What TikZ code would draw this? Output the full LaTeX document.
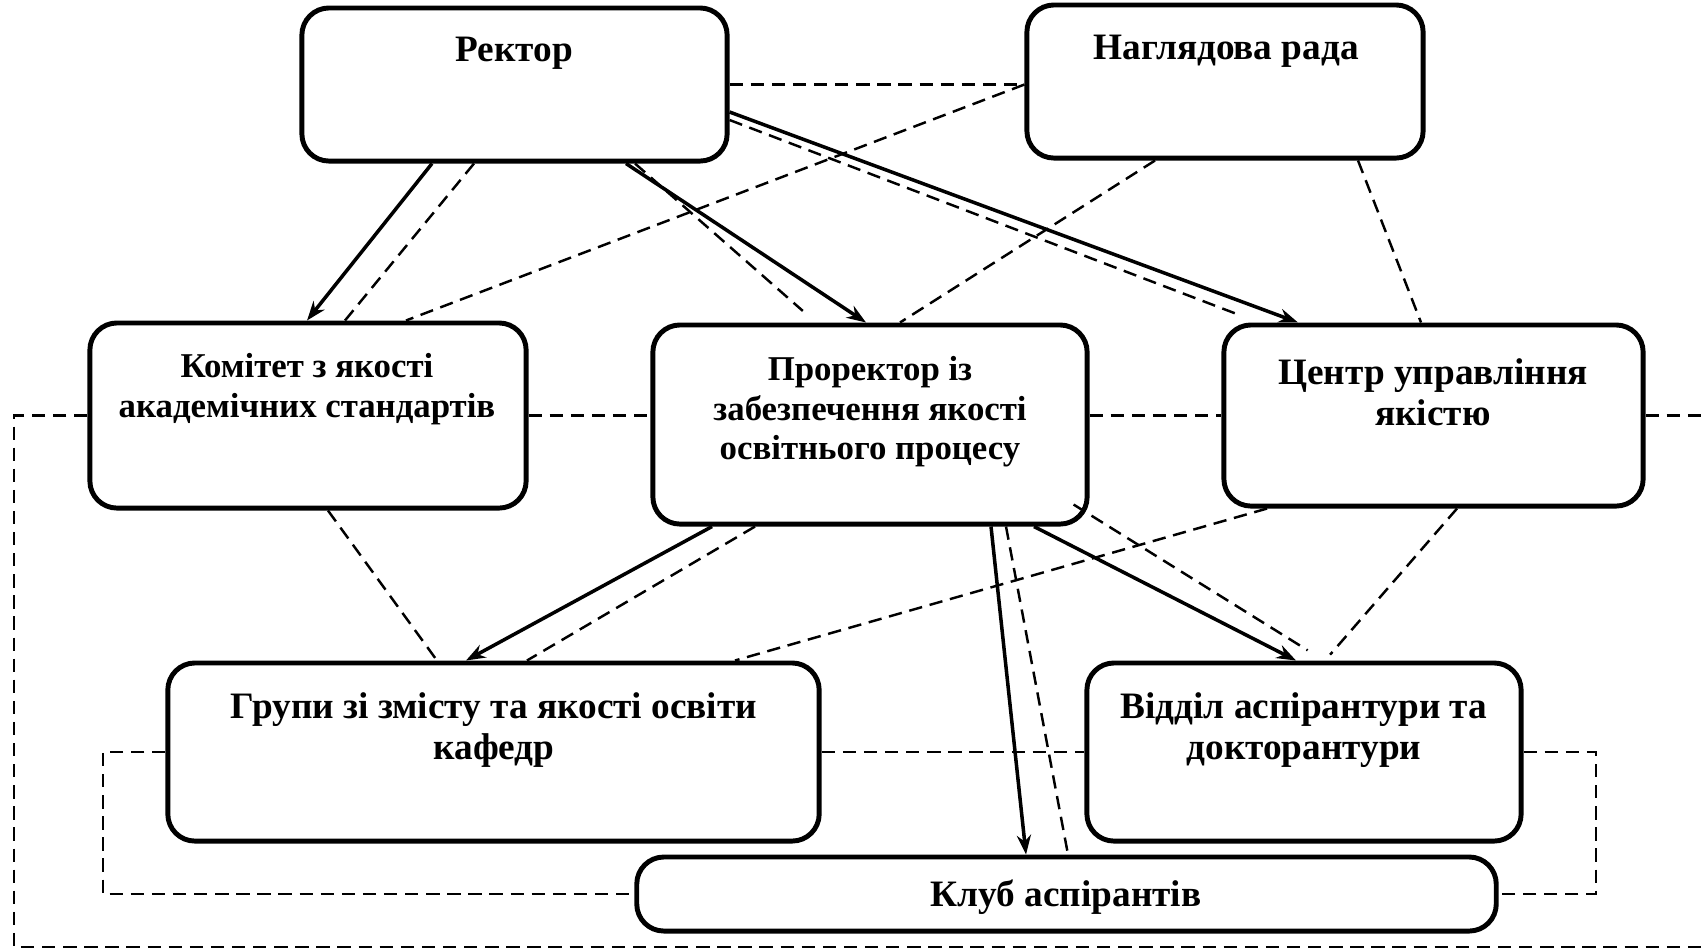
\documentclass[tikz,border=0pt]{standalone}
\usepackage{fontspec}
\setmainfont{Liberation Serif}
\usetikzlibrary{arrows.meta}
\tikzset{
  blk/.style={draw, line width=1.4pt, rounded corners=7.7pt, inner sep=0pt},
  txt/.style={font=\fontsize{10.6}{11.6}\selectfont\bfseries, align=center, inner sep=0pt},
  txtsm/.style={txt, font=\fontsize{9.9}{11.2}\selectfont\bfseries},
  sol/.style={line width=1pt, -{Stealth[length=5.5pt,width=4pt]}},
  dsh/.style={line width=0.7pt, dash pattern=on 3.8pt off 2.2pt},
}

\begin{document}
\begin{tikzpicture}[x=0.01cm, y=-0.01cm]
	%%%%% FRAME %%%%%
	\useasboundingbox (0,0) rectangle (1701,950);
	
	%%%%% BOXES %%%%%
	\node[blk, minimum width=4.25cm, minimum height=1.53cm] (rector) at (514.5,84.5) {};
	\node[blk, minimum width=3.96cm, minimum height=1.53cm] (nagl) at (1225,81.5) {};
	\node[blk, minimum width=4.36cm, minimum height=1.85cm] (komitet) at (308,415.5) {};
	\node[blk, minimum width=4.34cm, minimum height=1.99cm] (prorektor) at (870,424.5) {};
	\node[blk, minimum width=4.19cm, minimum height=1.81cm] (centr) at (1433.5,415.5) {};
	\node[blk, minimum width=6.51cm, minimum height=1.78cm] (grupy) at (493.5,752) {};
	\node[blk, minimum width=4.34cm, minimum height=1.78cm] (viddil) at (1304,752) {};
	\node[blk, minimum width=8.59cm, minimum height=0.74cm] (klub) at (1066.5,894) {};
	
	\node[txt] (rectorT) at (514,53) {Ректор};
	\node[txt] (naglT) at (1226,51) {Наглядова рада};
	\node[txtsm] (komitetT) at (307,389) {Комітет з якості\\академічних стандартів};
	\node[txtsm] (prorektorT) at (870,412) {Проректор із\\забезпечення якості\\освітнього процесу};
	\node[txt] (centrT) at (1433,392) {Центр управління\\якістю};
	\node[txt] (grupyT) at (494,730) {Групи зі змісту та якості освіти\\кафедр};
	\node[txt] (viddilT) at (1304,730) {Відділ аспірантури та\\докторантури};
	\node[txt] (klubT) at (1066,897) {Клуб аспірантів};
	
	%%%%% LOOPS %%%%%
	\coordinate (outL) at (14,947);
	\coordinate (outR) at (1720,947);
	\coordinate (inL) at (103,894);
	\coordinate (inR) at (1596,894);
	
	\draw[dsh] (komitet.west) -| (outL) -- (outR);
	\draw[dsh] (centr.east) -- (centr.east -| outR);
	\draw[dsh] (grupy.west) -| (inL) -- (klub.west);
	\draw[dsh] (viddil.east) -| (inR) -- (klub.east);
	
	\draw[dsh] (rector.east) -- (rector.east -| nagl.west);
	\draw[dsh] (komitet.east) -- (komitet.east -| prorektor.west);
	\draw[dsh] (prorektor.east |- centr.west) -- (centr.west);
	\draw[dsh] (grupy.east) -- (viddil.west);
	
	%%%%% DASHED LINKS %%%%%
	\draw[dsh] (rector.south -| 474,0) -- (komitet.north -| 345,0);
	\draw[dsh] (rector.east -| nagl.west) -- (komitet.north -| 406,0);
	\draw[dsh, shorten >=5pt] (rector.south -| 635,0) -- (prorektor.north -| 816,0);
	\draw[dsh, shorten >=5.5pt] (rector.east |- 0,120) -- (centr.north -| 1259,0);
	\draw[dsh] (nagl.south -| 1155,0) -- (prorektor.north -| 900,0);
	\draw[dsh] (nagl.south -| 1358,0) -- (centr.north -| 1421,0);
	\draw[dsh] (komitet.south -| 328,0) -- (grupy.north -| 437,0);
	\draw[dsh] (prorektor.south -| 755,0) -- (grupy.north -| 527,0);
	\draw[dsh] (centr.south -| 1267,0) -- (grupy.north -| 735,0);
	\draw[dsh] (prorektor.south -| 1006,0) -- (klub.north -| 1068,0);
	\draw[dsh, shorten >=5.5pt] (prorektor.south east) ++(-16,-22) -- (viddil.north -| 1324,0);
	\draw[dsh, shorten >=2.2pt] (centr.south -| 1457,0) -- (viddil.north -| 1325,0);
	
	%%%%% ARROWS %%%%%
	\draw[sol] (rector.south -| 432,0) -- (komitet.north -| 307,0);
	\draw[sol] (rector.south -| 626,0) -- (prorektor.north -| 866,0);
	\draw[sol] (rector.east |- 0,112) -- (centr.north -| 1298,0);
	\draw[sol] (prorektor.south -| 712,0) -- (grupy.north -| 466,0);
	\draw[sol] (prorektor.south -| 991,0) -- (klub.north -| 1026,0);
	\draw[sol] (prorektor.south -| 1034,0) -- (viddil.north -| 1296,0);
\end{tikzpicture}
\end{document}
